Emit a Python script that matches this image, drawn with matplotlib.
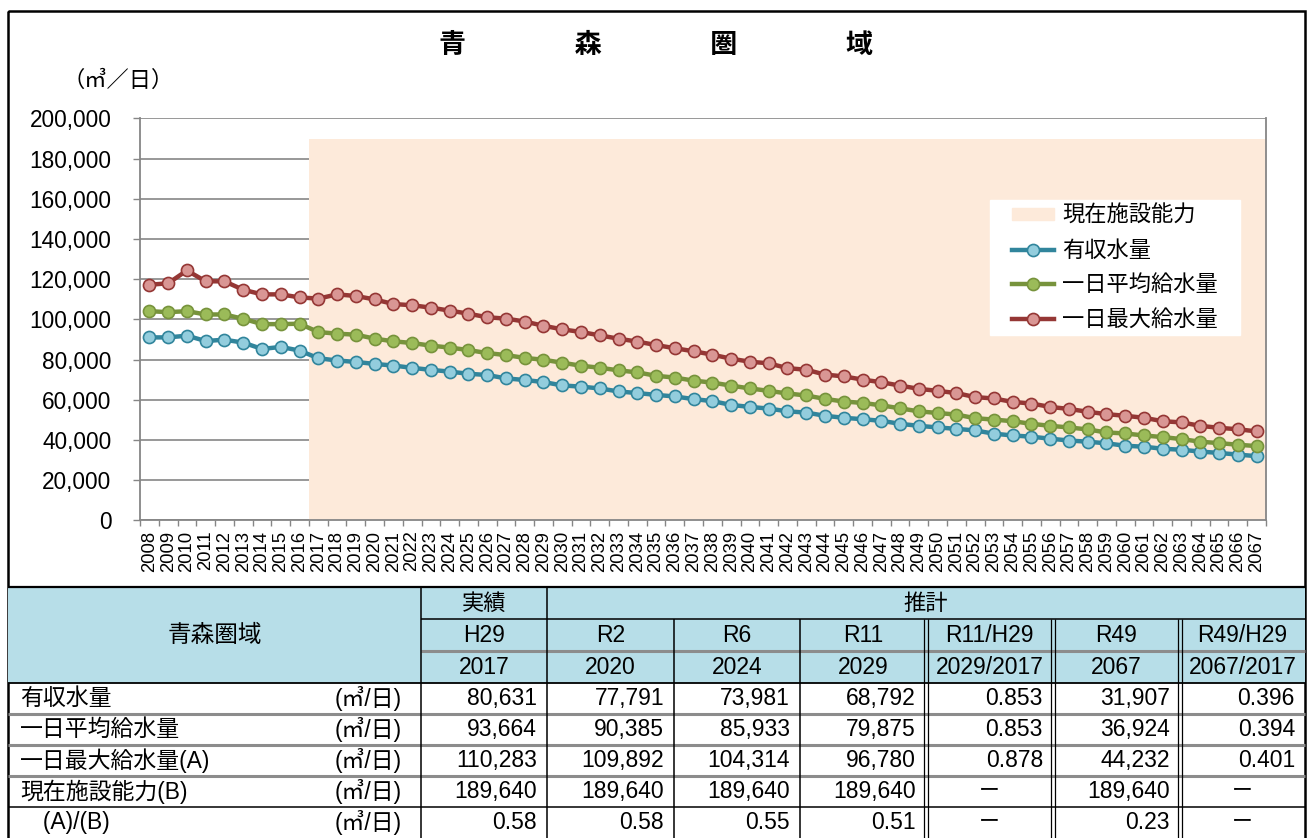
import numpy as np
import matplotlib.pyplot as plt
from matplotlib import font_manager
from matplotlib.lines import Line2D
from matplotlib.patches import Patch, Rectangle
from matplotlib.ticker import FuncFormatter

years = list(range(2008, 2068))

# 有収水量 (m3/日)
revenue_water = [
    91000, 91000, 91850, 89200, 89850, 88400, 85250, 86250, 84450,
    80631, 79500, 78800, 77791, 77000, 75850, 74850, 73981, 72900, 72300, 70600,
    69800, 68792, 67100, 66500, 65600, 64100, 63300, 62400, 61600, 60300,
    59300, 57400, 56400, 55600, 54200, 53600, 52000, 51000, 50300, 49500,
    48000, 47000, 46200, 45500, 44700, 43100, 42200, 41600, 40600, 39700,
    39100, 38300, 37100, 36600, 35600, 35100, 34200, 33500, 32700, 31907,
]
# 一日平均給水量
daily_average = [
    104050, 103550, 104050, 102400, 102400, 100250, 97600, 97600, 97800,
    93664, 92850, 92350, 90385, 89050, 88200, 86900, 85933, 84700, 83200, 82200,
    80800, 79875, 78400, 76900, 75900, 74600, 73600, 71900, 71000, 69500,
    68500, 67000, 65600, 64400, 63100, 62100, 60400, 59100, 58400, 57200,
    55700, 54200, 53400, 52600, 50800, 50100, 49300, 48000, 47000, 46200,
    45200, 43700, 43200, 42200, 41400, 40400, 39100, 38400, 37600, 36924,
]
# 一日最大給水量
daily_maximum = [
    117200, 117900, 124300, 118900, 118900, 114700, 112400, 112400, 110900,
    110283, 112400, 111600, 109892, 107600, 107000, 105800, 104314, 102800, 101000, 100350,
    98900, 96780, 95000, 93700, 92000, 90350, 88900, 87200, 85600, 84100,
    82400, 80400, 78900, 78100, 75700, 74900, 72500, 71600, 70000, 68700,
    67000, 65400, 64400, 63300, 61300, 60600, 58900, 58100, 56400, 55400,
    54000, 52800, 52000, 51000, 49300, 48700, 47000, 46000, 45300, 44232,
]
# 現在施設能力 (B), shown from 2017 onwards
capacity = 189640
capacity_from = 2017

table_eras = ['H29', 'R2', 'R6', 'R11', 'R11/H29', 'R49', 'R49/H29']
table_years = ['2017', '2020', '2024', '2029', '2029/2017', '2067', '2067/2017']
row_labels = ['有収水量', '一日平均給水量', '一日最大給水量(A)', '現在施設能力(B)', '　(A)/(B)']
row_unit = '(㎥/日)'
table_values = [
    ['80,631', '77,791', '73,981', '68,792', '0.853', '31,907', '0.396'],
    ['93,664', '90,385', '85,933', '79,875', '0.853', '36,924', '0.394'],
    ['110,283', '109,892', '104,314', '96,780', '0.878', '44,232', '0.401'],
    ['189,640', '189,640', '189,640', '189,640', 'ー', '189,640', 'ー'],
    ['0.58', '0.58', '0.55', '0.51', 'ー', '0.23', 'ー'],
]

JP = 'Noto Sans CJK JP'
installed = {f.name for f in font_manager.fontManager.ttflist}
NARROW = 'Liberation Sans Narrow' if 'Liberation Sans Narrow' in installed else 'Liberation Sans'
plt.rcParams['font.family'] = ['Liberation Sans', JP]

W, H = 1308, 838
fig = plt.figure(figsize=(W / 100, H / 100), dpi=100)


def fx(px):
    return px / W


def fy(py):
    return 1 - py / H


# frame + table drawn in pixel coordinates
tab = fig.add_axes([0, 0, 1, 1])
tab.set_xlim(0, W)
tab.set_ylim(H, 0)
tab.axis('off')

tab.add_patch(Rectangle((8, 11), 1297, 900, fill=False, lw=1.8, ec='black'))

row_edges = [587, 619, 651, 683, 714, 745, 776, 807, 838]
col_edges = [8, 421, 547, 674, 800, 926, 1053, 1180, 1305]
tab.add_patch(Rectangle((col_edges[0], row_edges[0]), col_edges[-1] - col_edges[0],
                        row_edges[3] - row_edges[0], color='#B7DEE8', lw=0))

gray = '#8c8c8c'
tab.hlines(row_edges[0], col_edges[0], col_edges[-1], color='black', lw=1.6)
tab.hlines(row_edges[1], col_edges[1], col_edges[-1], color='black', lw=1.1)
tab.hlines(row_edges[2], col_edges[1], col_edges[-1], color=gray, lw=2.2)
tab.hlines(row_edges[3], col_edges[0], col_edges[-1], color='black', lw=1.3)
for y in row_edges[4:7]:
    tab.hlines(y, col_edges[0], col_edges[-1], color=gray, lw=2.2)
tab.hlines(row_edges[7], col_edges[0], col_edges[-1], color='black', lw=1.1)
tab.vlines(col_edges[1:3], row_edges[0], H, color='black', lw=1.1)
tab.vlines(col_edges[3:5], row_edges[1], H, color='black', lw=1.1)
for x in col_edges[5:8]:
    tab.vlines([x - 1.8, x + 1.8], row_edges[1], H, color='black', lw=0.9)

tfont = dict(family=[NARROW, JP], fontsize=16.5)
ymid = lambda r: (row_edges[r] + row_edges[r + 1]) / 2
xmid = lambda c: (col_edges[c] + col_edges[c + 1]) / 2

tab.text(xmid(0), (row_edges[0] + row_edges[3]) / 2, '青森圏域', ha='center', va='center',
         family=JP, fontsize=17)
tab.text(xmid(1), ymid(0), '実績', ha='center', va='center', family=JP, fontsize=16)
tab.text((col_edges[2] + col_edges[-1]) / 2, ymid(0), '推計', ha='center', va='center',
         family=JP, fontsize=16)
for c, (era, yr) in enumerate(zip(table_eras, table_years), start=1):
    tab.text(xmid(c), ymid(1), era, ha='center', va='center', **tfont)
    tab.text(xmid(c), ymid(2), yr, ha='center', va='center', **tfont)

for r, (label, vals) in enumerate(zip(row_labels, table_values), start=3):
    tab.text(20, ymid(r), label, ha='left', va='center', **tfont)
    tab.text(402, ymid(r), row_unit, ha='right', va='center', **tfont)
    for c, v in enumerate(vals, start=1):
        if v == 'ー':
            tab.text(xmid(c), ymid(r), v, ha='center', va='center', family=JP, fontsize=15)
        else:
            tab.text(col_edges[c + 1] - 10, ymid(r), v, ha='right', va='center', **tfont)

# chart
ax = fig.add_axes([fx(140), fy(520.3), (1266 - 140) / W, (520.3 - 118.3) / H])
x = np.arange(len(years))
ax.set_xlim(-0.5, len(years) - 0.5)
ax.set_ylim(0, 200000)

# capacity band: one block covering every year from capacity_from on
cap_x = [i for i, yr in enumerate(years) if yr >= capacity_from]
ax.bar(cap_x[0] - 0.5, capacity, width=len(cap_x), align='edge', color='#FDEADA', lw=0,
       zorder=1)

series = [
    (revenue_water, '有収水量', '#31859C', '#93CDDD'),
    (daily_average, '一日平均給水量', '#77933C', '#9BBB59'),
    (daily_maximum, '一日最大給水量', '#953735', '#D99694'),
]
handles = [Patch(color='#FDEADA', label='現在施設能力')]
for vals, name, line_c, face_c in series:
    ax.plot(x, vals, color=line_c, lw=3.2, marker='o', ms=8.7, mfc=face_c, mec=line_c,
            mew=1.2, zorder=3)
    handles.append(Line2D([], [], color=line_c, lw=3.2, marker='o', ms=8.7, mfc=face_c,
                          mec=line_c, mew=1.2, label=name))

ax.set_axisbelow(True)
ax.yaxis.grid(True, color='#868686', lw=1.2)
for side in ['left', 'bottom', 'right']:
    ax.spines[side].set_color('#868686')
    ax.spines[side].set_linewidth(1.3)
ax.spines['top'].set_visible(False)

ax.set_yticks(range(0, 200001, 20000))
ax.yaxis.set_major_formatter(FuncFormatter(lambda v, p: f'{v:,.0f}'))
ax.tick_params(axis='y', length=5, width=1, color='#868686', pad=15.5, labelsize=16.3)
ax.set_xticks(x)
ax.set_xticklabels([str(y) for y in years], rotation=90)
ax.set_xticks(np.arange(-0.5, len(years), 1), minor=True)
ax.tick_params(axis='x', which='major', length=0, pad=7.5, labelsize=13.3)
ax.tick_params(axis='x', which='minor', length=4.5, width=1, color='#868686')

# legend on a white box
ax.add_patch(Rectangle((fx(990), fy(335)), fx(250), 135 / H, transform=fig.transFigure,
                       color='white', zorder=4, clip_on=False))
leg = ax.legend(handles=handles, loc='upper left', bbox_to_anchor=(fx(1012), fy(204)),
                bbox_transform=fig.transFigure, frameon=False, borderpad=0, borderaxespad=0,
                handlelength=1.9, handleheight=0.45, handletextpad=0.35, labelspacing=0.52,
                prop=dict(family=JP, size=16))
leg.set_zorder(5)

fig.text(fx(656), fy(45), '青　　　　森　　　　圏　　　　域', ha='center', va='center',
         family=JP, fontsize=19.5, weight='bold')
fig.text(fx(118), fy(80), '（㎥／日）', ha='center', va='center', family=JP, fontsize=16)

fig.savefig('out.png', dpi=100)
